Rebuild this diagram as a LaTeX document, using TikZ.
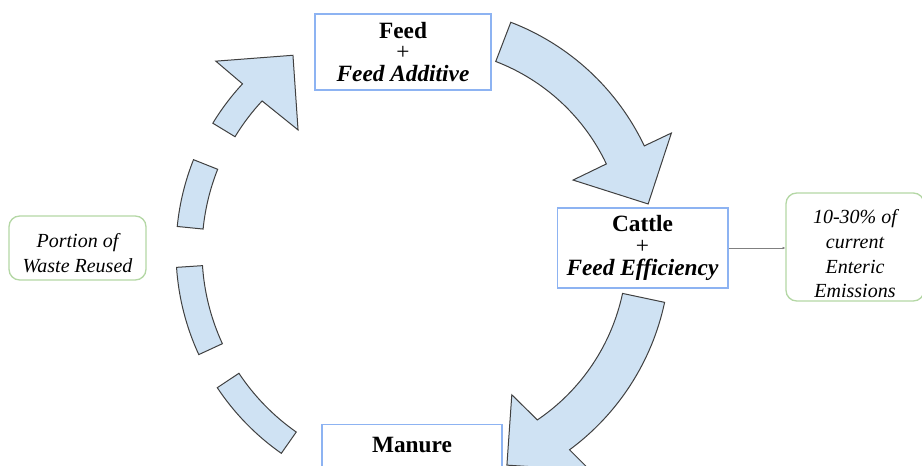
\documentclass[tikz,border=0pt]{standalone}
\usepackage{fontspec}
\setmainfont{Liberation Serif}
\usetikzlibrary{arrows.meta}
\definecolor{arrowfill}{HTML}{CFE2F3}
\definecolor{boxblue}{HTML}{8DB3F2}
\definecolor{notegreen}{HTML}{B4D7A5}

\begin{document}
\begin{tikzpicture}[x=0.75pt,y=0.75pt,
  band/.style = {fill=arrowfill,draw=black!75,line width=0.75pt,line join=miter},
  stage/.style = {rectangle,draw=boxblue,fill=white,line width=1pt,align=center,inner sep=0pt,font=\fontsize{17.5}{16.3}\selectfont},
  note/.style = {rectangle,rounded corners=8pt,draw=notegreen,line width=1pt,align=center,inner sep=0pt,font=\fontsize{15}{18.5}\selectfont\itshape}]
\useasboundingbox (0,0) rectangle (922,-466);
\clip (0,0) rectangle (922,-466);
\coordinate (hub) at (423,-251);
\begin{scope}[shift={(hub)}]
\draw[band] (69:245) arc[start angle=69,end angle=25.4,radius=245] -- (25.4:275) -- (11.8:230) -- (25.3:166) -- (25.4:203) arc[start angle=25.4,end angle=69,radius=203] -- cycle;
\draw[band] (-12:247) arc[start angle=-12,end angle=-53.6,radius=247] -- (-52.7:276) -- (-68.6:230) -- (-58.3:169) -- (-55.9:204) arc[start angle=-55.9,end angle=-12,radius=204] -- cycle;
\foreach \a/\b in {158.3/174.3, 183.8/204.8, 213.6/235}
    \draw[band] (\a:247) arc[start angle=\a,end angle=\b,radius=247] -- (\b:221) arc[start angle=\b,end angle=\a,radius=221] -- cycle;
\draw[band] (148.7:246) arc[start angle=148.7,end angle=137.2,radius=246] -- (137.5:281) -- (123.6:235) -- (135.9:174) -- (137:220) arc[start angle=137,end angle=148.7,radius=220] -- cycle;
\end{scope}
\node[stage,minimum width=132pt,minimum height=57pt] (feed) at (403,-52) {\textbf{Feed}\\+\\\textbf{\textit{Feed Additive}}};
\node[stage,minimum width=128pt,minimum height=60pt] (cattle) at (642.5,-248) {\textbf{Cattle}\\+\\\textbf{\textit{Feed Efficiency}}};
\node[stage,minimum width=135pt,anchor=north,inner ysep=9.5pt,text depth=40pt] (manure) at (412,-424) {\textbf{Manure}};
\node[note,minimum width=102.75pt,minimum height=48pt] (reuse) at (77.5,-248) {\rule{0pt}{18pt}Portion of\\Waste Reused};
\node[note,minimum width=103.5pt,minimum height=81pt] (enteric) at (855,-247) {\rule{0pt}{21pt}10-30\% of\\current\\Enteric\\Emissions};
\draw[draw=gray,line width=0.6pt,-{Latex[length=2pt,width=2pt]}] (cattle.east) -- (cattle.east -| enteric.west);
\end{tikzpicture}
\end{document}
